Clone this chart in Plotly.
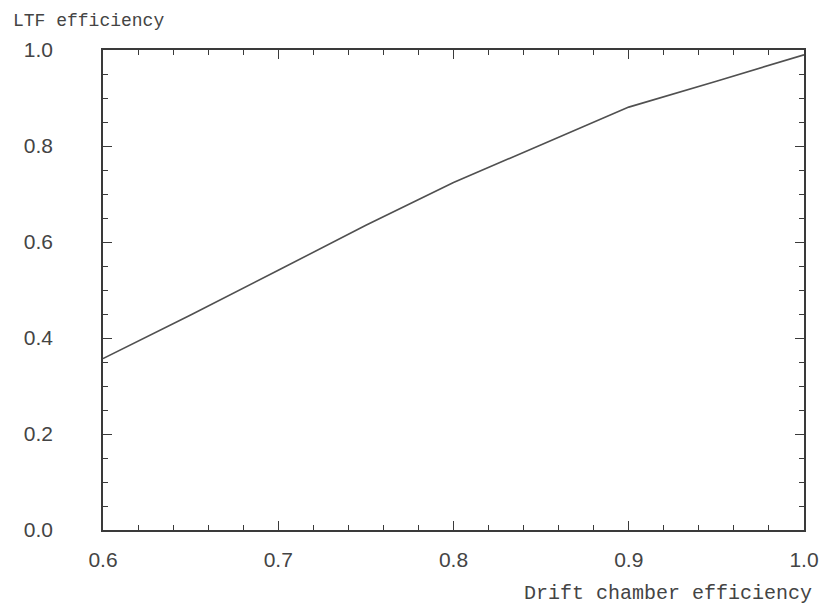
import plotly.graph_objects as go

drift_eff = [0.60, 0.65, 0.70, 0.75, 0.80, 0.85, 0.90, 0.95, 1.00]
ltf_eff = [0.357, 0.448, 0.541, 0.635, 0.724, 0.802, 0.881, 0.935, 0.990]

x_ticks = [0.6, 0.7, 0.8, 0.9, 1.0]
x_ticklabels = ["0.6", "0.7", "0.8", "0.9", "1.0"]
y_ticks = [0.0, 0.2, 0.4, 0.6, 0.8, 1.0]
y_ticklabels = ["0.0", "0.2", "0.4", "0.6", "0.8", "1.0"]

ink = "#3a3a3a"

fig = go.Figure()
fig.add_trace(go.Scatter(x=drift_eff, y=ltf_eff, mode="lines",
                         line=dict(color="#505050", width=1.6),
                         showlegend=False, hoverinfo="skip"))

axis_common = dict(showgrid=False, zeroline=False, showline=True, linecolor=ink,
                   linewidth=1.6, mirror="allticks", ticks="inside", ticklen=9,
                   tickwidth=1.3, tickcolor=ink, automargin=False,
                   tickfont=dict(family="Liberation Sans, Arial, sans-serif", size=21, color="#444"))

fig.update_xaxes(range=[0.6, 1.0], tickvals=x_ticks, ticktext=x_ticklabels,
                 minor=dict(dtick=0.02, ticks="inside", ticklen=5, tickwidth=1.2, tickcolor=ink, showgrid=False),
                 ticklabelstandoff=10, **axis_common)
fig.update_yaxes(range=[0.0, 1.0], tickvals=y_ticks, ticktext=y_ticklabels,
                 minor=dict(dtick=0.05, ticks="inside", ticklen=5, tickwidth=1.2, tickcolor=ink, showgrid=False),
                 ticklabelstandoff=44, **axis_common)

fig.add_annotation(text="LTF efficiency", xref="paper", yref="paper",
                   x=-0.125, y=1.0, xanchor="left", yanchor="bottom", yshift=17, xshift=-4,
                   showarrow=False,
                   font=dict(family="Liberation Mono, Courier New, monospace", size=18, color="#444"))
fig.add_annotation(text="Drift chamber efficiency", xref="paper", yref="paper",
                   x=1.0, y=0.0, xanchor="right", yanchor="top", yshift=-50, xshift=10,
                   showarrow=False,
                   font=dict(family="Liberation Mono, Courier New, monospace", size=20, color="#444"))

fig.update_layout(width=819, height=606, margin=dict(l=103, r=15, t=50, b=76),
                  plot_bgcolor="white", paper_bgcolor="white")

fig.write_html("out.html")
